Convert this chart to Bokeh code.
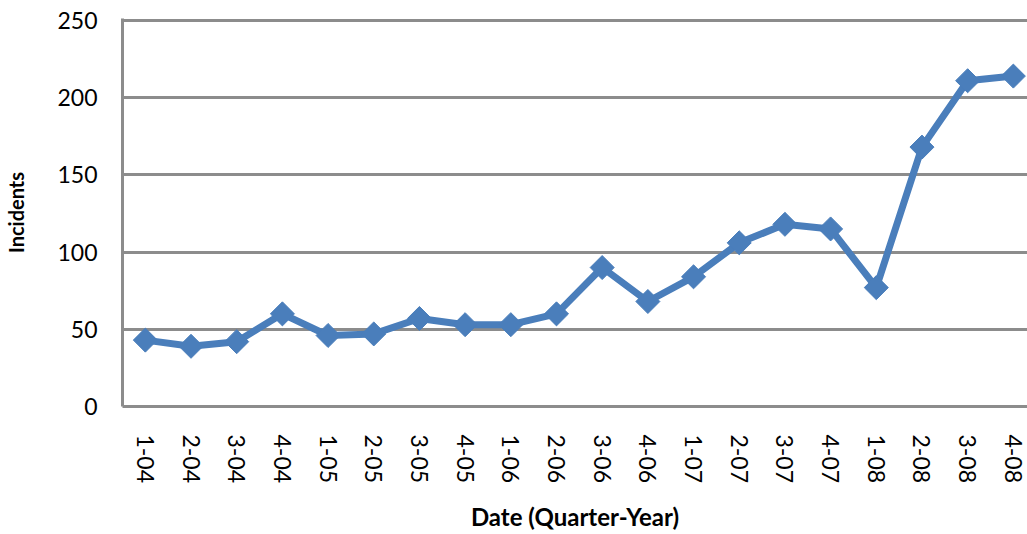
import math
from bokeh.plotting import figure
from bokeh.models import Range1d, FixedTicker
from bokeh.embed import file_html
from bokeh.resources import INLINE

quarters = ["1-04", "2-04", "3-04", "4-04", "1-05", "2-05", "3-05", "4-05", "1-06", "2-06",
            "3-06", "4-06", "1-07", "2-07", "3-07", "4-07", "1-08", "2-08", "3-08", "4-08"]
incidents = [43, 39, 42, 60, 46, 47, 57, 53, 53, 60, 90, 68, 84, 106, 118, 115, 77, 168, 211, 214]
y_ticks = [0, 50, 100, 150, 200, 250]

xs = list(range(len(quarters)))

FONT = "Lato"
GRID = "#8c8c8c"
BLUE = "#4a7ebb"

p = figure(width=1027, height=534, output_backend="svg", toolbar_location=None,
           x_range=Range1d(-0.5, 19.31), y_range=Range1d(0, 251.3),
           min_border_left=122, min_border_right=0, min_border_top=18, min_border_bottom=128)
p.outline_line_color = None
p.background_fill_color = "white"

p.line(xs, incidents, line_color=BLUE, line_width=7, line_join="round")
p.scatter(xs, incidents, marker="square", size=17, angle=math.pi / 4,
          fill_color=BLUE, line_color=BLUE, line_width=1)

p.xaxis.ticker = FixedTicker(ticks=xs)
p.xaxis.major_label_overrides = {i: q for i, q in enumerate(quarters)}
p.xaxis.major_label_orientation = "vertical"
p.yaxis.ticker = FixedTicker(ticks=y_ticks)

for ax in (p.xaxis[0], p.yaxis[0]):
    ax.axis_line_color = GRID
    ax.axis_line_width = 3
    ax.major_tick_line_color = None
    ax.minor_tick_line_color = None
    ax.major_label_text_font = FONT
    ax.major_label_text_font_size = "23px"
    ax.major_label_text_color = "black"
    ax.axis_label_text_font = FONT
    ax.axis_label_text_font_style = "bold"
    ax.axis_label_text_font_size = "20px"
    ax.axis_label_text_color = "black"

p.xaxis.axis_label_text_font_size = "24px"
p.yaxis.major_label_standoff = 19
p.xaxis.major_label_standoff = 22
p.xaxis.axis_label = "Date (Quarter-Year)"
p.yaxis.axis_label = "Incidents"
p.xaxis.axis_label_standoff = 16
p.yaxis.axis_label_standoff = 26

p.xgrid.grid_line_color = None
p.ygrid.ticker = FixedTicker(ticks=[50, 100, 150, 200, 250])
p.ygrid.grid_line_color = GRID
p.ygrid.grid_line_width = 3

open("out.html", "w").write(file_html(p, INLINE))
